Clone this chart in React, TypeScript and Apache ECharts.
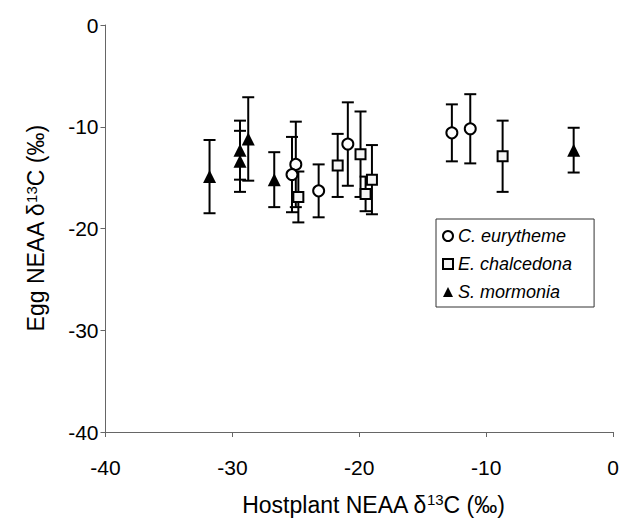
import React, { useEffect, useRef } from "react";
import * as echarts from "echarts";

// C. eurytheme (circles)
const cX = [-25.0, -25.3, -23.2, -20.9, -12.7, -11.25];
const cY = [-13.7, -14.7, -16.3, -11.7, -10.6, -10.2];
const cErr = [4.2, 3.7, 2.6, 4.1, 2.8, 3.4];
// E. chalcedona (squares)
const eX = [-24.8, -21.7, -19.9, -19.5, -19.0, -8.7];
const eY = [-16.9, -13.8, -12.7, -16.6, -15.2, -12.9];
const eErr = [2.5, 3.1, 4.2, 1.7, 3.4, 3.5];
// S. mormonia (triangles)
const sX = [-31.8, -29.4, -29.4, -28.75, -26.7, -3.1];
const sY = [-14.9, -12.3, -13.4, -11.2, -15.2, -12.3];
const sErr = [3.6, 2.9, 3.0, 4.1, 2.7, 2.2];

const seriesNames = ["C. eurytheme", "E. chalcedona", "S. mormonia"];
const xTicks = [-40, -30, -20, -10, 0];
const yTicks = [-40, -30, -20, -10, 0];

const FONT = "Liberation Sans, Arial, Helvetica, sans-serif";

function errData(xs: number[], ys: number[], es: number[]) {
  return xs.map((x, i) => [x, ys[i] - es[i], ys[i] + es[i]]);
}
function ptData(xs: number[], ys: number[]) {
  return xs.map((x, i) => [x, ys[i]]);
}

function renderErr(params: any, api: any) {
  const x = api.value(0);
  const lo = api.coord([x, api.value(1)]);
  const hi = api.coord([x, api.value(2)]);
  const hw = 6;
  const style = { stroke: "#000", lineWidth: 2 };
  return {
    type: "group",
    children: [
      { type: "line", shape: { x1: lo[0], y1: lo[1], x2: hi[0], y2: hi[1] }, style },
      { type: "line", shape: { x1: lo[0] - hw, y1: lo[1], x2: lo[0] + hw, y2: lo[1] }, style },
      { type: "line", shape: { x1: hi[0] - hw, y1: hi[1], x2: hi[0] + hw, y2: hi[1] }, style },
    ],
  };
}

export default function App() {
  const ref = useRef<HTMLDivElement>(null);
  useEffect(() => {
    if (!ref.current) return;
    const chart = echarts.init(ref.current, undefined, { renderer: "svg" });
    const supRich = {
      sup: { fontSize: 15, fontFamily: FONT, color: "#000", verticalAlign: "bottom", padding: [0, 0, 10, 0] },
    };
    chart.setOption({
      animation: false,
      backgroundColor: "#fff",
      grid: { left: 105.5, right: 12, top: 25, bottom: 95, containLabel: false },
      xAxis: {
        type: "value",
        min: xTicks[0],
        max: xTicks[xTicks.length - 1],
        interval: 10,
        name: "Hostplant NEAA δ{sup|13}C (‰)",
        nameLocation: "middle",
        nameGap: 60,
        nameTextStyle: { fontSize: 23, fontFamily: FONT, color: "#000", rich: supRich, padding: [0, 0, 0, 28] },
        axisLine: { show: true, onZero: false, lineStyle: { color: "#666", width: 1 } },
        axisTick: { show: true, length: 5, lineStyle: { color: "#666" } },
        axisLabel: { fontSize: 21, fontFamily: FONT, color: "#000", margin: 25 },
        splitLine: { show: false },
      },
      yAxis: {
        type: "value",
        min: yTicks[0],
        max: yTicks[yTicks.length - 1],
        interval: 10,
        name: "Egg NEAA δ{sup|13}C (‰)",
        nameLocation: "middle",
        nameRotate: 90,
        nameGap: 57,
        nameTextStyle: { fontSize: 23, fontFamily: FONT, color: "#000", rich: supRich },
        axisLine: { show: true, onZero: false, lineStyle: { color: "#666", width: 1 } },
        axisTick: { show: true, length: 5, lineStyle: { color: "#666" } },
        axisLabel: { fontSize: 21, fontFamily: FONT, color: "#000", margin: 7 },
        splitLine: { show: false },
      },
      legend: {
        orient: "vertical",
        left: 436,
        top: 219,
        padding: [8, 22, 6, 6],
        itemGap: 10,
        itemWidth: 10,
        itemHeight: 10,
        borderColor: "#333",
        borderWidth: 1,
        backgroundColor: "#fff",
        textStyle: { fontSize: 18, fontStyle: "italic", fontFamily: FONT, color: "#000" },
        data: [
          { name: seriesNames[0], icon: "circle" },
          { name: seriesNames[1], icon: "rect" },
          { name: seriesNames[2], icon: "triangle" },
        ],
      },
      series: [
        { type: "custom", name: "errC", renderItem: renderErr, data: errData(cX, cY, cErr), z: 2 },
        { type: "custom", name: "errE", renderItem: renderErr, data: errData(eX, eY, eErr), z: 2 },
        { type: "custom", name: "errS", renderItem: renderErr, data: errData(sX, sY, sErr), z: 2 },
        {
          type: "scatter",
          name: seriesNames[0],
          symbol: "circle",
          symbolSize: 11,
          itemStyle: { color: "#fff", borderColor: "#000", borderWidth: 2, opacity: 1 },
          data: ptData(cX, cY),
          z: 3,
        },
        {
          type: "scatter",
          name: seriesNames[1],
          symbol: "rect",
          symbolSize: 10,
          itemStyle: { color: "#f4f4f4", borderColor: "#000", borderWidth: 2, opacity: 1 },
          data: ptData(eX, eY),
          z: 3,
        },
        {
          type: "scatter",
          name: seriesNames[2],
          symbol: "triangle",
          symbolSize: 13,
          itemStyle: { color: "#000", borderColor: "#000", borderWidth: 0, opacity: 1 },
          data: ptData(sX, sY),
          z: 3,
        },
      ],
    });
    return () => chart.dispose();
  }, []);
  return <div ref={ref} style={{ width: 625, height: 527, position: "fixed", left: 0, top: 0 }} />;
}
